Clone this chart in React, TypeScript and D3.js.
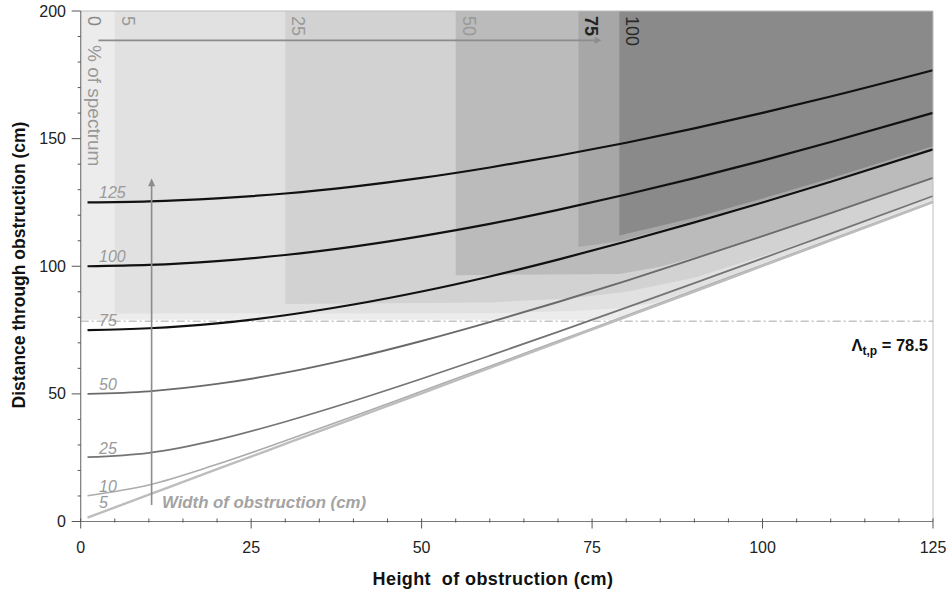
import React from "react";
import * as d3 from "d3";

// Height of obstruction (cm) at which each curve is sampled
const heights = [1, 10, 20, 30, 40, 50, 60, 70, 80, 90, 100, 110, 125];

// Obstruction widths (cm), one curve each
const widths = [125, 100, 75, 50, 25, 10, 5];

// Distance through obstruction (cm) for each width, sampled at `heights`
const dist125 = [125.0, 125.4, 126.6, 128.5, 131.2, 134.6, 138.7, 143.3, 148.4, 154.0, 160.1, 166.5, 176.8];
const dist100 = [100.0, 100.5, 102.0, 104.4, 107.7, 111.8, 116.6, 122.1, 128.1, 134.5, 141.4, 148.7, 160.1];
const dist75 = [75.0, 75.7, 77.6, 80.8, 85.0, 90.1, 96.0, 102.6, 109.7, 117.2, 125.0, 133.1, 145.8];
const dist50 = [50.0, 51.0, 53.9, 58.3, 64.0, 70.7, 78.1, 86.0, 94.3, 103.0, 111.8, 120.8, 134.6];
const dist25 = [25.2, 26.9, 32.0, 39.1, 47.2, 55.9, 65.0, 74.3, 83.8, 93.4, 103.1, 112.8, 127.5];
const dist10 = [10.1, 14.3, 22.4, 31.6, 41.2, 51.0, 60.8, 70.7, 80.6, 90.6, 100.5, 110.5, 125.4];
const dist5 = [1.5, 10.5, 20.5, 30.4, 40.3, 50.2, 60.2, 70.2, 80.2, 90.1, 100.1, 110.1, 125.1];

const distances = [dist125, dist100, dist75, dist50, dist25, dist10, dist5];

// Percent-of-spectrum levels, the height where each starts and its lower boundary [height, distance]
const spectrumLevels = ["0", "5", "25", "50", "75", "100"];
const levelStart = [0, 5, 30, 55, 73, 79];
const levelBottom0 = [[0, 79], [78, 79], [80, 80.3], [90, 90.2], [100, 100.2], [110, 110.2], [125, 125.2]];
const levelBottom5 = [[5, 81.5], [60, 81.6], [72, 82.5], [79, 83.5], [84, 85.5], [90, 91], [100, 101], [110, 111], [125, 126]];
const levelBottom25 = [[30, 85.2], [60, 85.8], [72, 87.5], [80, 90], [90, 95.5], [100, 104], [110, 113], [125, 128]];
const levelBottom50 = [[55, 96.5], [79, 97], [85, 99.8], [90, 103.5], [100, 112.2], [110, 121.2], [125, 135]];
const levelBottom75 = [[73, 107.5], [79, 109.8], [90, 117.8], [100, 125.6], [110, 133.6], [125, 146.3]];
const levelBottom100 = [[79, 112], [90, 119], [100, 126.5], [110, 134.5], [125, 147]];
const levelBottoms = [levelBottom0, levelBottom5, levelBottom25, levelBottom50, levelBottom75, levelBottom100];

const threshold = 78.5;

const xTicks = [0, 25, 50, 75, 100, 125];
const yTicks = [0, 50, 100, 150, 200];

const W = 948;
const H = 594;
const FONT = "'Liberation Sans', Arial, sans-serif";

const levelFill = ["#ececec", "#e1e1e1", "#d2d2d2", "#bbbbbb", "#a7a7a7", "#8a8a8a"];
const levelText = ["#8a8a8a", "#999999", "#999999", "#999999", "#222222", "#2a2a2a"];
const curveStroke = ["#111", "#111", "#111", "#6a6a6a", "#747474", "#acacac", "#bdbdbd"];
const curveWidth = [2.2, 2.2, 2.2, 1.9, 1.7, 1.6, 2.4];

export default function App() {
  const x = d3.scaleLinear().domain([0, 125]).range([80.7, 933]);
  const y = d3.scaleLinear().domain([0, 200]).range([521.5, 11]);

  const curve = d3
    .line<number>()
    .x((_, i) => x(heights[i]))
    .y((d) => y(d))
    .curve(d3.curveMonotoneX);

  const poly = d3
    .line<number[]>()
    .x((d) => x(d[0]))
    .y((d) => y(d[1]));

  const levelPaths = levelBottoms.map((bottom, i) => {
    const pts = [[levelStart[i], 200], ...bottom, [125, 200]];
    return poly(pts) + "Z";
  });

  const xMinor = d3.range(0, 126, 5).filter((v) => v % 25 !== 0);
  const yMinor = d3.range(0, 201, 10).filter((v) => v % 50 !== 0);

  const arrowY = y(188.5);
  const arrowX0 = x(2.6);
  const arrowX1 = x(76.4);
  const vArrowX = x(10.4);
  const vArrowY0 = y(6.5);
  const vArrowY1 = y(134.5);

  return (
    <svg
      width={W}
      height={H}
      viewBox={`0 0 ${W} ${H}`}
      style={{ position: "absolute", left: 0, top: 0, background: "#fff" }}
      fontFamily={FONT}
    >
      {/* shaded spectrum levels */}
      {levelPaths.map((d, i) => (
        <path key={"lvl" + i} d={d} fill={levelFill[i]} stroke="none" />
      ))}

      {/* level labels, vertical */}
      {spectrumLevels.map((s, i) => (
        <text
          key={"lt" + i}
          transform={`translate(${x(levelStart[i]) + 7},16) rotate(90)`}
          fontSize={18}
          fill={levelText[i]}
          fontWeight={i === 4 ? "bold" : "normal"}
        >
          {s}
        </text>
      ))}
      <text transform={`translate(${x(0) + 7},45) rotate(90)`} fontSize={19} fill="#999">
        % of spectrum
      </text>

      {/* horizontal arrow across spectrum bands */}
      <line x1={arrowX0} y1={arrowY} x2={arrowX1 - 5} y2={arrowY} stroke="#8c8c8c" strokeWidth={1.6} />
      <path
        d={`M${arrowX1},${arrowY} L${arrowX1 - 7},${arrowY - 3.5} L${arrowX1 - 7},${arrowY + 3.5}Z`}
        fill="#8c8c8c"
      />

      {/* threshold line */}
      <line
        x1={x(0)}
        x2={x(125)}
        y1={y(threshold)}
        y2={y(threshold)}
        stroke="#c4c4c4"
        strokeWidth={1.5}
        strokeDasharray="8,3,2,3"
      />
      <text x={928} y={351} textAnchor="end" fontSize={16.5} fontWeight="bold" fill="#111">
        Λ
        <tspan fontSize={12} dy={4}>
          t,p
        </tspan>
        <tspan dy={-4}> = {threshold}</tspan>
      </text>

      {/* width curves */}
      {distances.map((vals, i) => (
        <path
          key={"c" + i}
          d={curve(vals) || ""}
          fill="none"
          stroke={curveStroke[i]}
          strokeWidth={curveWidth[i]}
        />
      ))}
      {widths.map((w, i) => (
        <text
          key={"cl" + i}
          x={99}
          y={y(w) - (w === 5 ? 1 : 4)}
          fontSize={16}
          fontStyle="italic"
          fill="#9a9a9a"
        >
          {w}
        </text>
      ))}

      {/* width arrow */}
      <line x1={vArrowX} y1={vArrowY0} x2={vArrowX} y2={vArrowY1 + 5} stroke="#8c8c8c" strokeWidth={1.6} />
      <path
        d={`M${vArrowX},${vArrowY1} L${vArrowX - 3.5},${vArrowY1 + 8} L${vArrowX + 3.5},${vArrowY1 + 8}Z`}
        fill="#8c8c8c"
      />
      <text x={162} y={508} fontSize={16.8} fontStyle="italic" fontWeight="bold" fill="#a3a3a3">
        Width of obstruction (cm)
      </text>

      {/* frame */}
      <line x1={x(0)} x2={x(125)} y1={y(200)} y2={y(200)} stroke="#bdbdbd" strokeWidth={1} />
      <line x1={x(125)} x2={x(125)} y1={y(200)} y2={y(0)} stroke="#bdbdbd" strokeWidth={1} />

      {/* axes */}
      <line x1={x(0)} x2={x(125)} y1={y(0)} y2={y(0)} stroke="#7a7a7a" strokeWidth={1.2} />
      <line x1={x(0)} x2={x(0)} y1={y(0)} y2={y(200)} stroke="#7a7a7a" strokeWidth={1.2} />

      {xTicks.map((t) => (
        <g key={"xt" + t}>
          <line x1={x(t)} x2={x(t)} y1={y(0) - 3} y2={y(0) + 7} stroke="#555" strokeWidth={1} />
          <text x={x(t)} y={553} textAnchor="middle" fontSize={16} fill="#222">
            {t}
          </text>
        </g>
      ))}
      {xMinor.map((t) => (
        <line key={"xm" + t} x1={x(t)} x2={x(t)} y1={y(0) - 3} y2={y(0) + 1} stroke="#555" strokeWidth={1} />
      ))}
      {yTicks.map((t) => (
        <g key={"yt" + t}>
          <line x1={x(0) - 9} x2={x(0)} y1={y(t)} y2={y(t)} stroke="#555" strokeWidth={1} />
          <text x={66} y={y(t) + 5.5} textAnchor="end" fontSize={16} fill="#222">
            {t}
          </text>
        </g>
      ))}
      {yMinor.map((t) => (
        <line key={"ym" + t} x1={x(0) - 3} x2={x(0)} y1={y(t)} y2={y(t)} stroke="#555" strokeWidth={1} />
      ))}

      {/* axis titles */}
      <text x={493} y={585} textAnchor="middle" fontSize={18} fontWeight="bold" fill="#111" letterSpacing={0.4}>
        {"Height\u00a0 of obstruction (cm)"}
      </text>
      <text
        transform={`translate(25,${265}) rotate(-90)`}
        textAnchor="middle"
        fontSize={17.5}
        fontWeight="bold"
        fill="#111"
      >
        Distance through obstruction (cm)
      </text>
    </svg>
  );
}
